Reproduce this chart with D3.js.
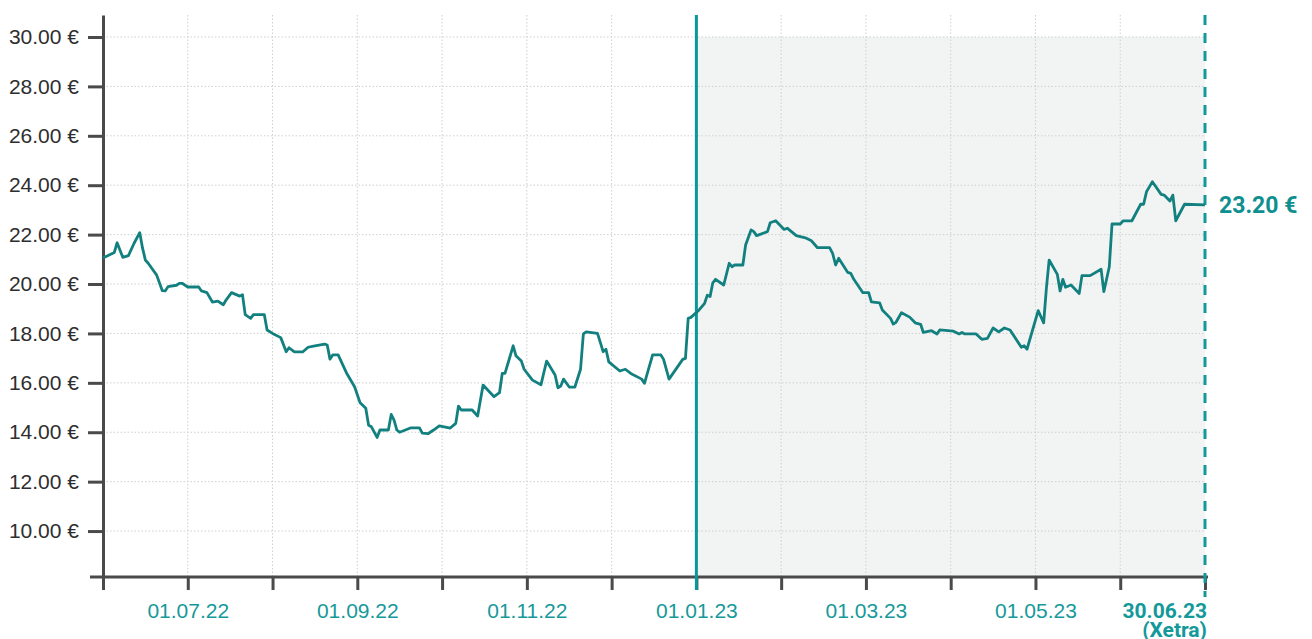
<!DOCTYPE html>
<html>
<head>
<meta charset="utf-8">
<script src="https://cdn.jsdelivr.net/npm/d3@7"></script>
<style>
    body { margin: 0; background: #fff; }
    svg { display: block; font-family: Roboto, "Noto Sans", sans-serif; }
    .axis path, .axis line { stroke: #4a4a4a; stroke-width: 3; }
    .grid line { stroke: #cfcfcf; stroke-width: 1; stroke-dasharray: 1.5,2; }
</style>
</head>
<body>
<div id="chart"></div>
<script>
// price history, one entry per date
var dates = [
    "01.06.22","05.06.22","06.06.22","08.06.22","10.06.22","12.06.22","14.06.22","15.06.22","16.06.22","17.06.22","20.06.22","22.06.22","23.06.22","24.06.22","27.06.22","28.06.22","29.06.22",
    "01.07.22","05.07.22","06.07.22","08.07.22","10.07.22","12.07.22","14.07.22","15.07.22","17.07.22","20.07.22","21.07.22","22.07.22","24.07.22","25.07.22","29.07.22","30.07.22",
    "01.08.22","04.08.22","06.08.22","07.08.22","09.08.22","12.08.22","14.08.22","16.08.22","20.08.22","21.08.22","22.08.22","23.08.22","25.08.22","28.08.22","31.08.22",
    "02.09.22","04.09.22","05.09.22","06.09.22","08.09.22","09.09.22","12.09.22","13.09.22","14.09.22","15.09.22","16.09.22","20.09.22","23.09.22","24.09.22","26.09.22","28.09.22","30.09.22",
    "04.10.22","06.10.22","07.10.22","08.10.22","12.10.22","14.10.22","16.10.22","20.10.22","22.10.22","23.10.22","24.10.22","27.10.22","28.10.22","30.10.22","31.10.22",
    "03.11.22","06.11.22","07.11.22","08.11.22","11.11.22","12.11.22","13.11.22","14.11.22","16.11.22","18.11.22","20.11.22","21.11.22","22.11.22","26.11.22","27.11.22","28.11.22","29.11.22","30.11.22",
    "04.12.22","06.12.22","08.12.22","12.12.22","13.12.22","16.12.22","19.12.22","20.12.22","22.12.22","27.12.22","28.12.22","29.12.22","30.12.22",
    "02.01.23","04.01.23","05.01.23","06.01.23","07.01.23","08.01.23","11.01.23","13.01.23","14.01.23","15.01.23","18.01.23","19.01.23","21.01.23","22.01.23","23.01.23","27.01.23","28.01.23","30.01.23",
    "02.02.23","03.02.23","06.02.23","09.02.23","11.02.23","13.02.23","17.02.23","18.02.23","19.02.23","20.02.23","23.02.23","24.02.23","25.02.23","28.02.23",
    "02.03.23","03.03.23","06.03.23","07.03.23","10.03.23","11.03.23","12.03.23","14.03.23","17.03.23","19.03.23","21.03.23","22.03.23","25.03.23","27.03.23","28.03.23",
    "02.04.23","04.04.23","05.04.23","06.04.23","10.04.23","12.04.23","14.04.23","16.04.23","18.04.23","20.04.23","22.04.23","26.04.23","27.04.23","28.04.23",
    "02.05.23","04.05.23","05.05.23","06.05.23","09.05.23","10.05.23","11.05.23","12.05.23","14.05.23","17.05.23","18.05.23","21.05.23","25.05.23","26.05.23","28.05.23","29.05.23",
    "01.06.23","02.06.23","05.06.23","08.06.23","09.06.23","10.06.23","12.06.23","15.06.23","16.06.23","18.06.23","19.06.23","20.06.23","23.06.23","30.06.23"
];
var prices = [
    21.05, 21.28, 21.67, 21.08, 21.15, 21.65, 22.08, 21.45, 20.97, 20.84, 20.36, 19.73, 19.72, 19.89, 19.95, 20.03, 20.03,
    19.88, 19.88, 19.72, 19.65, 19.27, 19.31, 19.16, 19.35, 19.65, 19.51, 19.57, 18.76, 18.61, 18.76, 18.76, 18.14,
    18.00, 17.83, 17.26, 17.42, 17.25, 17.25, 17.44, 17.49, 17.57, 17.53, 16.96, 17.13, 17.13, 16.41, 15.84,
    15.19, 14.97, 14.28, 14.22, 13.79, 14.09, 14.09, 14.72, 14.49, 14.09, 14.00, 14.18, 14.18, 13.96, 13.94, 14.09, 14.26,
    14.17, 14.36, 15.06, 14.90, 14.90, 14.66, 15.91, 15.44, 15.60, 16.38, 16.38, 17.50, 17.10, 16.88, 16.55,
    16.11, 15.92, 16.41, 16.88, 16.32, 15.80, 15.87, 16.15, 15.83, 15.83, 16.55, 17.98, 18.06, 18.00, 17.64, 17.26, 17.36, 16.85,
    16.48, 16.55, 16.38, 16.15, 15.98, 17.13, 17.13, 16.95, 16.15, 16.95, 16.99, 18.61, 18.65,
    18.95, 19.22, 19.55, 19.49, 20.05, 20.19, 19.96, 20.84, 20.70, 20.77, 20.77, 21.58, 22.19, 22.12, 21.96, 22.12, 22.48, 22.56,
    22.21, 22.26, 21.96, 21.87, 21.75, 21.47, 21.47, 21.24, 20.77, 21.04, 20.47, 20.43, 20.19, 19.65,
    19.65, 19.28, 19.24, 18.95, 18.61, 18.38, 18.45, 18.84, 18.66, 18.43, 18.37, 18.04, 18.11, 17.98, 18.14,
    18.09, 17.98, 18.04, 17.98, 17.98, 17.76, 17.80, 18.22, 18.06, 18.22, 18.14, 17.44, 17.50, 17.36,
    18.92, 18.43, 19.83, 20.97, 20.39, 19.72, 20.19, 19.87, 19.96, 19.62, 20.34, 20.34, 20.60, 19.69, 20.70, 22.43,
    22.43, 22.56, 22.56, 23.23, 23.23, 23.74, 24.14, 23.63, 23.60, 23.36, 23.60, 22.56, 23.23, 23.20
];

// axis ticks
var monthTicks = ["01.06.22","01.07.22","01.08.22","01.09.22","01.10.22","01.11.22","01.12.22",
                  "01.01.23","01.02.23","01.03.23","01.04.23","01.05.23","01.06.23","30.06.23"];
var labelledTicks = ["01.07.22","01.09.22","01.11.22","01.01.23","01.03.23","01.05.23"];
var yTicks = [10, 12, 14, 16, 18, 20, 22, 24, 26, 28, 30];
var splitDate = "01.01.23";     // start of shaded period
var lastDate = "30.06.23";
var lastPrice = 23.20;
var lastNote = "(Xetra)";

function drawChart() {
    var parse = d3.timeParse("%d.%m.%y");
    var fmtDate = d3.timeFormat("%d.%m.%y");
    var fmtEur = function (v) { return d3.format(".2f")(v) + " €"; };

    var data = dates.map(function (d, i) {
        return { date: parse(d), value: prices[i] };
    });

    var W = 1312, H = 639;
    var mLeft = 103, mRight = 1205, mTop = 15, mBottom = 577;

    var svg = d3.select("#chart").append("svg")
        .attr("width", W)
        .attr("height", H);

    // months evenly spaced along the axis
    var tickDates = monthTicks.map(parse);
    var step = (mRight - mLeft) / (tickDates.length - 1);
    var x = d3.scaleTime()
        .domain(tickDates)
        .range(tickDates.map(function (d, i) { return mLeft + i * step; }));

    var y = d3.scaleLinear()
        .domain([8.14, 30.89])
        .range([mBottom, mTop]);

    // shaded period
    svg.append("rect")
        .attr("x", x(parse(splitDate)))
        .attr("y", y(30))
        .attr("width", x(parse(lastDate)) - x(parse(splitDate)))
        .attr("height", mBottom - y(30))
        .attr("fill", "#f2f4f3");

    // grid
    var grid = svg.append("g").attr("class", "grid");
    grid.selectAll(".h").data(yTicks).enter().append("line")
        .attr("x1", mLeft).attr("x2", mRight)
        .attr("y1", function (d) { return y(d); })
        .attr("y2", function (d) { return y(d); });
    grid.selectAll(".v").data(tickDates.slice(1, -1)).enter().append("line")
        .attr("x1", function (d) { return x(d); })
        .attr("x2", function (d) { return x(d); })
        .attr("y1", mTop).attr("y2", mBottom);

    // y axis
    var yAxis = svg.append("g")
        .attr("class", "axis")
        .attr("transform", "translate(" + mLeft + ",0)")
        .call(d3.axisLeft(y).tickValues(yTicks).tickSize(15).tickSizeOuter(0).tickPadding(9).tickFormat(fmtEur));
    yAxis.selectAll("text")
        .attr("fill", "#2e2e2e")
        .style("font-size", "21px");

    // x axis
    var xAxis = svg.append("g")
        .attr("class", "axis")
        .attr("transform", "translate(0," + mBottom + ")")
        .call(d3.axisBottom(x).tickValues(tickDates).tickSize(13).tickSizeOuter(0).tickPadding(13)
            .tickFormat(function (d) {
                var s = fmtDate(d);
                return labelledTicks.indexOf(s) >= 0 ? s : "";
            }));
    xAxis.select(".domain").remove();
    xAxis.insert("line", ":first-child")
        .attr("x1", mLeft - 13).attr("x2", mRight + 3)
        .attr("y1", 0).attr("y2", 0);
    xAxis.selectAll("text")
        .attr("fill", "#16999a")
        .style("font-size", "21px");

    // split marker and last date marker
    svg.append("line")
        .attr("x1", x(parse(splitDate))).attr("x2", x(parse(splitDate)))
        .attr("y1", mTop).attr("y2", mBottom + 13)
        .attr("stroke", "#08979a")
        .attr("stroke-width", 3);

    svg.append("line")
        .attr("x1", x(parse(lastDate))).attr("x2", x(parse(lastDate)))
        .attr("y1", mTop).attr("y2", mBottom + 20)
        .attr("stroke", "#12999a")
        .attr("stroke-width", 3)
        .attr("stroke-dasharray", "10,8");

    // price line
    var line = d3.line()
        .x(function (d) { return x(d.date); })
        .y(function (d) { return y(d.value); });

    svg.append("path")
        .datum(data)
        .attr("fill", "none")
        .attr("stroke", "#138080")
        .attr("stroke-width", 2.8)
        .attr("stroke-linejoin", "round")
        .attr("d", line);

    // last price label
    svg.append("text")
        .attr("x", x(parse(lastDate)) + 14)
        .attr("y", y(lastPrice))
        .attr("dy", "0.36em")
        .attr("fill", "#0f8f8f")
        .style("font-size", "23px")
        .style("font-weight", "bold")
        .text(fmtEur(lastPrice));

    // last date label
    var lastLbl = svg.append("text")
        .attr("x", x(parse(lastDate)) + 2)
        .attr("y", mBottom + 41)
        .attr("text-anchor", "end")
        .attr("fill", "#12999a")
        .style("font-size", "21px")
        .style("font-weight", "bold");
    lastLbl.append("tspan").text(lastDate);
    lastLbl.append("tspan")
        .attr("x", x(parse(lastDate)) + 2)
        .attr("dy", 19)
        .text(lastNote);
}
drawChart();
</script>
</body>
</html>
